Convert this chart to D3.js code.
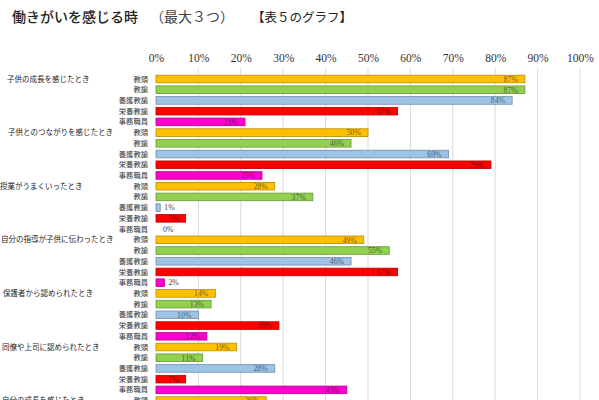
<!DOCTYPE html>
<html>
<head>
<meta charset="utf-8">
<script src="https://cdn.jsdelivr.net/npm/d3@7"></script>
<style>
  body { margin: 0; background: #fff; }
  svg { display: block; }
</style>
</head>
<body>
<svg id="chart" width="599" height="400"></svg>
<script>
// data (percent)
const categories = [
    '子供の成長を感じたとき',
    '子供とのつながりを感じたとき',
    '授業がうまくいったとき',
    '自分の指導が子供に伝わったとき',
    '保護者から認められたとき',
    '同僚や上司に認められたとき',
    '自分の成長を感じたとき'
];
const roles = ['教頭', '教諭', '養護教諭', '栄養教諭', '事務職員'];

// one array per role, in category order (null = cut off below the picture)
const kyoto   = [87, 50, 28, 49, 14, 19, 26];
const kyoyu   = [87, 46, 37, 55, 13, 11, null];
const yogo    = [84, 69, 1, 46, 10, 28, null];
const eiyo    = [57, 79, 7, 57, 29, 7, null];
const jimu    = [21, 25, 0, 2, 12, 45, null];
const seriesValues = [kyoto, kyoyu, yogo, eiyo, jimu];

const ticks = [0, 10, 20, 30, 40, 50, 60, 70, 80, 90, 100];

// layout / style
const roleColors = ['#FFC000', '#92D050', '#9DC3E6', '#FF0000', '#FF00CC'];
const catIndent = [7, 8, 0, 1, 3, 2, 2];
const serif = '"Liberation Serif", "DejaVu Serif", "Noto Sans CJK JP", serif';

const svg = d3.select('#chart');

const rowPitch = 10.72;
const firstRowCenter = 79;
const rows = [];
categories.forEach((c, ci) => {
    roles.forEach((r, ri) => {
        rows.push({cat: ci, role: ri, key: ci + '-' + ri, value: seriesValues[ri][ci]});
    });
});

const x = d3.scaleLinear().domain([0, 100]).range([156, 580]);
const y = d3.scaleBand()
    .domain(rows.map(d => d.key))
    .range([firstRowCenter - rowPitch / 2, firstRowCenter - rowPitch / 2 + rows.length * rowPitch])
    .paddingInner(0.29)
    .paddingOuter(0.145);

// title
const title = svg.append('g');
title.append('text')
    .attr('x', 12).attr('y', 22)
    .style('font', '500 14px "Noto Sans CJK JP"')
    .style('fill', '#222')
    .text('働きがいを感じる時');
title.append('text')
    .attr('x', 150).attr('y', 22)
    .style('font-family', serif).style('font-size', '14px')
    .style('fill', '#444')
    .text('（最大３つ）');
title.append('text')
    .attr('x', 252).attr('y', 22)
    .style('font-family', serif).style('font-size', '12.5px')
    .style('fill', '#222')
    .text('【表５のグラフ】');

// gridlines
svg.append('g')
    .selectAll('line')
    .data(ticks.filter(t => t > 0))
    .join('line')
    .attr('x1', d => x(d)).attr('x2', d => x(d))
    .attr('y1', 68).attr('y2', 400)
    .style('stroke', '#d9d9d9')
    .style('stroke-width', 1);

// top axis labels
const axis = svg.append('g')
    .attr('transform', 'translate(0,66)')
    .call(d3.axisTop(x).tickValues(ticks).tickSize(0).tickPadding(4).tickFormat(d => d + '%'));
axis.select('.domain').remove();
axis.selectAll('text')
    .style('font-family', serif)
    .style('font-size', '11.5px')
    .style('fill', '#333');

// category labels
svg.append('g')
    .selectAll('text')
    .data(categories)
    .join('text')
    .attr('x', (d, i) => catIndent[i])
    .attr('y', (d, i) => y(i + '-0') + y.bandwidth() / 2)
    .attr('dy', '0.35em')
    .style('font-family', serif)
    .style('font-size', '7.5px')
    .style('fill', '#222')
    .text(d => d);

const drawn = rows.filter(d => d.value !== null);

// role labels (only rows inside the picture)
svg.append('g')
    .selectAll('text')
    .data(drawn)
    .join('text')
    .attr('x', 148)
    .attr('y', d => y(d.key) + y.bandwidth() / 2)
    .attr('dy', '0.35em')
    .attr('text-anchor', 'end')
    .style('font-family', serif)
    .style('font-size', '7.3px')
    .style('fill', '#333')
    .text(d => roles[d.role]);

// bars
svg.append('g')
    .selectAll('rect')
    .data(drawn.filter(d => d.value > 0))
    .join('rect')
    .attr('x', x(0))
    .attr('y', d => y(d.key))
    .attr('width', d => x(d.value) - x(0))
    .attr('height', y.bandwidth())
    .style('fill', d => roleColors[d.role])
    .style('stroke', d => d3.color(roleColors[d.role]).darker(0.9))
    .style('stroke-width', 0.8);

// value labels
svg.append('g')
    .selectAll('text')
    .data(drawn)
    .join('text')
    .attr('x', d => d.value < 5 ? Math.max(x(d.value) + 4, 163) : x(d.value) - 7)
    .attr('y', d => y(d.key) + y.bandwidth() / 2)
    .attr('dy', '0.36em')
    .attr('text-anchor', d => d.value < 5 ? 'start' : 'end')
    .style('font-family', serif)
    .style('font-size', '7.8px')
    .style('fill', d => d.value < 5 ? '#404040' : d3.color(roleColors[d.role]).darker(2))
    .text(d => d.value + '%');
</script>
</body>
</html>
